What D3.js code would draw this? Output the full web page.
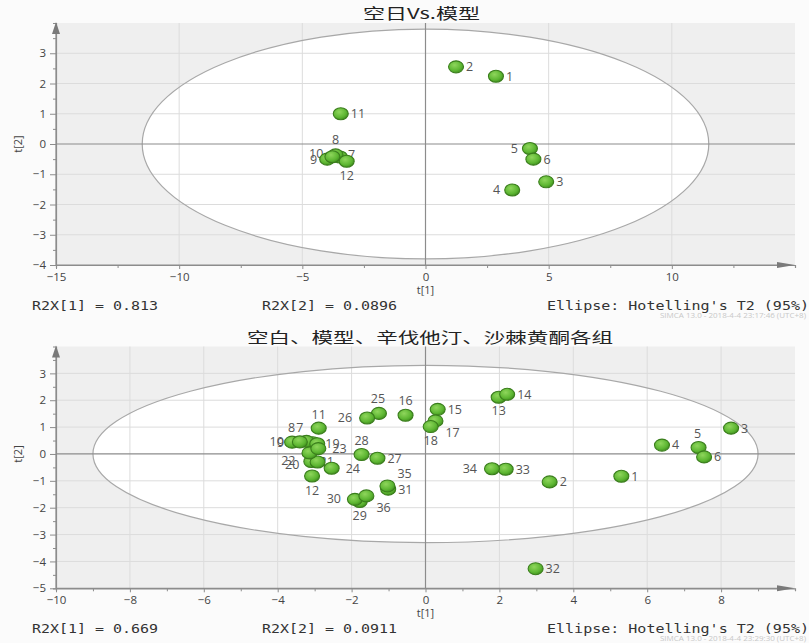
<!DOCTYPE html>
<html>
<head>
<meta charset="utf-8">
<script src="https://cdn.jsdelivr.net/npm/d3@7"></script>
<style>
  body { margin: 0; background: #fbfbfb; }
  svg { display: block; }
</style>
</head>
<body>
<svg id="chart" width="809" height="643"></svg>
<script>
// panel 1: 空日Vs.模型
const topIds = [1, 2, 3, 4, 5, 6, 7, 8, 9, 10, 11, 12];
const topT1 = [2.86, 1.24, 4.90, 3.52, 4.24, 4.38, -3.47, -3.65, -3.99, -3.78, -3.44, -3.20];
const topT2 = [2.24, 2.55, -1.25, -1.52, -0.15, -0.50, -0.43, -0.36, -0.50, -0.42, 1.00, -0.57];
const topXTicks = [-15, -10, -5, 0, 5, 10];
const topYTicks = [-4, -3, -2, -1, 0, 1, 2, 3];
const topEllipse = [11.5, 3.8];
const topStats = ['R2X[1] = 0.813', 'R2X[2] = 0.0896', "Ellipse: Hotelling's T2 (95%)"];

// panel 2: 空白、模型、辛伐他汀、沙棘黄酮各组
const botIds = [1, 2, 3, 4, 5, 6, 7, 8, 9, 10, 11, 12, 13, 14, 15, 16, 17, 18,
  19, 20, 21, 22, 23, 24, 25, 26, 27, 28, 29, 30, 31, 32, 33, 34, 35, 36];
const botT1 = [5.30, 3.36, 8.27, 6.40, 7.39, 7.54, -3.05, -3.22, -3.61, -3.40, -2.89, -3.07,
  1.98, 2.21, 0.33, -0.54, 0.27, 0.14, -2.93, -3.09, -2.92, -3.14, -2.90, -2.54,
  -1.26, -1.58, -1.30, -1.73, -1.78, -1.91, -1.01, 2.98, 2.17, 1.80, -1.03, -1.60];
const botT2 = [-0.83, -1.04, 0.96, 0.33, 0.24, -0.11, 0.42, 0.47, 0.44, 0.45, 0.96, -0.82,
  2.11, 2.22, 1.66, 1.44, 1.23, 1.02, 0.38, -0.28, -0.30, 0.04, 0.20, -0.53,
  1.51, 1.34, -0.16, -0.02, -1.77, -1.69, -1.31, -4.27, -0.57, -0.55, -1.19, -1.56];
const botXTicks = [-10, -8, -6, -4, -2, 0, 2, 4, 6, 8];
const botYTicks = [-5, -4, -3, -2, -1, 0, 1, 2, 3];
const botEllipse = [9.0, 3.3];
const botStats = ['R2X[1] = 0.669', 'R2X[2] = 0.0911', "Ellipse: Hotelling's T2 (95%)"];

// label placement [dx, dy, anchor]; default is to the right of the point
const topLabelPos = {
  4: [-12, 0, 'end'], 5: [-12, 0, 'end'], 7: [8, -2, 'start'], 8: [0, -15, 'middle'],
  9: [-10, 0, 'end'], 10: [-9, -3, 'end'], 12: [0, 14, 'middle']
};
const botLabelPos = {
  5: [-1, -14, 'middle'], 7: [-13, -15, 'middle'], 8: [-15, -14, 'middle'],
  9: [-8, 0, 'end'], 10: [-16, 0, 'end'], 11: [0, -14, 'middle'], 12: [0, 15, 'middle'],
  13: [0, 13, 'middle'], 16: [0, -15, 'middle'], 17: [10, 12, 'start'], 18: [0, 14, 'middle'],
  19: [8, 0, 'start'], 20: [-12, 3, 'end'], 21: [2, 0, 'start'], 22: [-14, 8, 'end'],
  23: [14, 0, 'start'], 24: [14, 0, 'start'], 25: [-1, -15, 'middle'], 26: [-15, 0, 'end'],
  28: [0, -14, 'middle'], 29: [0, 14, 'middle'], 30: [-14, -1, 'end'], 34: [-15, 0, 'end'],
  35: [10, -12, 'start'], 36: [10, 12, 'start']
};

const svg = d3.select('#chart');
const left = 56, right = 795;

const grad = svg.append('defs').append('radialGradient')
  .attr('id', 'dot').attr('cx', '40%').attr('cy', '35%').attr('r', '70%');
grad.append('stop').attr('offset', '0%').attr('stop-color', '#8fd65c');
grad.append('stop').attr('offset', '65%').attr('stop-color', '#5db632');
grad.append('stop').attr('offset', '100%').attr('stop-color', '#3d8a1c');

function range(a, b, step) {
  const out = [];
  for (let v = a; v <= b + 1e-9; v += step) out.push(+v.toFixed(2));
  return out;
}

function drawPanel(p) {
  const g = svg.append('g');
  const x = d3.scaleLinear().domain(p.xDomain).range([left, right]);
  const y = d3.scaleLinear().domain(p.yDomain).range([p.bottom, p.top]);

  g.append('rect')
    .attr('x', left).attr('y', p.top)
    .attr('width', right - left).attr('height', p.bottom - p.top)
    .attr('fill', '#efefef');

  g.append('ellipse')
    .attr('cx', x(0)).attr('cy', y(0))
    .attr('rx', x(p.ellipse[0]) - x(0)).attr('ry', y(0) - y(p.ellipse[1]))
    .attr('fill', '#ffffff');

  // grid
  g.selectAll('.vgrid')
    .data(p.xTicks.filter(d => d !== 0 && d !== p.xDomain[0]))
    .enter().append('line')
    .attr('x1', d => x(d)).attr('x2', d => x(d))
    .attr('y1', p.top).attr('y2', p.bottom)
    .attr('stroke', '#dcdcdc');
  g.selectAll('.hgrid')
    .data(p.yTicks.filter(d => d !== 0 && d !== p.yDomain[0]))
    .enter().append('line')
    .attr('x1', left).attr('x2', right)
    .attr('y1', d => y(d)).attr('y2', d => y(d))
    .attr('stroke', '#dcdcdc');

  g.append('ellipse')
    .attr('cx', x(0)).attr('cy', y(0))
    .attr('rx', x(p.ellipse[0]) - x(0)).attr('ry', y(0) - y(p.ellipse[1]))
    .attr('fill', 'none').attr('stroke', '#a8a8a8').attr('stroke-width', 1.2);

  // zero lines
  g.append('line').attr('x1', x(0)).attr('x2', x(0)).attr('y1', p.top).attr('y2', p.bottom)
    .attr('stroke', '#8c8c8c').attr('stroke-width', 1.2);
  g.append('line').attr('x1', left).attr('x2', right).attr('y1', y(0)).attr('y2', y(0))
    .attr('stroke', '#8c8c8c').attr('stroke-width', 1.2);

  // axes
  const xAxis = g.append('g').attr('transform', `translate(0,${p.bottom})`)
    .call(d3.axisBottom(x).tickValues(p.xTicks).tickSize(4).tickPadding(4).tickFormat(d3.format('d')));
  const xMinor = g.append('g').attr('transform', `translate(0,${p.bottom})`)
    .call(d3.axisBottom(x).tickValues(p.xMinor).tickSize(3).tickFormat(''));
  const yAxis = g.append('g').attr('transform', `translate(${left},0)`)
    .call(d3.axisLeft(y).tickValues(p.yTicks).tickSize(6).tickPadding(4).tickFormat(d3.format('d')));
  const yMinor = g.append('g').attr('transform', `translate(${left},0)`)
    .call(d3.axisLeft(y).tickValues(p.yMinor).tickSize(3).tickFormat(''));

  [xAxis, xMinor, yAxis, yMinor].forEach(a => {
    a.select('.domain').attr('stroke', '#8c8c8c').attr('stroke-width', 1.2);
    a.selectAll('.tick line').attr('stroke', '#8c8c8c');
    a.selectAll('.tick text')
      .attr('fill', '#444').attr('font-family', 'Open Sans, sans-serif').attr('font-size', 11.5);
  });
  xAxis.select('.domain').attr('d', `M${left},0H${right - 14}`);
  yAxis.select('.domain').attr('d', `M0,${p.bottom}V${p.top + 10}`);

  // arrows
  g.append('path')
    .attr('d', `M${left - 4},${p.top + 11}L${left},${p.top - 1}L${left + 4},${p.top + 11}Z`)
    .attr('fill', '#7a7a7a');
  g.append('path')
    .attr('d', `M${right - 18},${p.bottom - 3}L${right},${p.bottom}L${right - 18},${p.bottom + 3}Z`)
    .attr('fill', '#7a7a7a');

  // axis titles
  g.append('text').attr('x', x(0)).attr('y', p.bottom + 29)
    .attr('text-anchor', 'middle').attr('font-family', 'Open Sans, sans-serif')
    .attr('font-size', 11).attr('fill', '#444').text('t[1]');
  g.append('text').attr('transform', `translate(22,${y(0)}) rotate(-90)`)
    .attr('text-anchor', 'middle').attr('font-family', 'Open Sans, sans-serif')
    .attr('font-size', 11).attr('fill', '#444').text('t[2]');

  // title
  g.append('text').attr('x', p.titleX).attr('y', p.titleY)
    .attr('textLength', p.titleW).attr('lengthAdjust', 'spacingAndGlyphs')
    .attr('font-family', 'Noto Sans CJK SC, sans-serif').attr('font-size', 15)
    .attr('fill', '#222').text(p.title);

  // footer
  const statX = [32, 262, 547];
  const statW = [126, 135, 262];
  g.selectAll('.stat').data(p.stats).enter().append('text')
    .attr('x', (d, i) => statX[i]).attr('y', p.bottom + 45)
    .attr('textLength', (d, i) => statW[i]).attr('lengthAdjust', 'spacingAndGlyphs')
    .attr('font-family', 'DejaVu Sans Mono, monospace').attr('font-size', 12)
    .attr('fill', '#333').text(d => d);
  g.append('text').attr('x', 806).attr('y', p.bottom + 53)
    .attr('text-anchor', 'end')
    .attr('font-family', 'Open Sans, sans-serif').attr('font-size', 8)
    .attr('fill', '#c8c8c8').text(p.simca);

  const pts = p.ids.map((id, i) => ({ id, t1: p.t1[i], t2: p.t2[i] }));

  // labels under the points, like the original
  g.selectAll('.lbl').data(pts).enter().append('text')
    .attr('x', d => x(d.t1) + (p.labelPos[d.id] || [10, 0])[0])
    .attr('y', d => y(d.t2) + (p.labelPos[d.id] || [10, 0])[1])
    .attr('dy', '0.35em')
    .attr('text-anchor', d => (p.labelPos[d.id] || [0, 0, 'start'])[2])
    .attr('font-family', 'Open Sans, sans-serif').attr('font-size', 12.5)
    .attr('fill', '#555').text(d => d.id);

  g.selectAll('.pt').data(pts).enter().append('ellipse')
    .attr('cx', d => x(d.t1)).attr('cy', d => y(d.t2))
    .attr('rx', 7.5).attr('ry', 6)
    .attr('fill', 'url(#dot)').attr('stroke', '#3a7d1c').attr('stroke-width', 1.1);
}

drawPanel({
  ids: topIds, t1: topT1, t2: topT2, labelPos: topLabelPos,
  xDomain: [-15, 15], yDomain: [-4, 4], top: 23, bottom: 265,
  xTicks: topXTicks, yTicks: topYTicks,
  xMinor: range(-12.5, 12.5, 5), yMinor: range(-3.5, 3.5, 1),
  ellipse: topEllipse, stats: topStats,
  title: '空日Vs.模型', titleX: 363, titleY: 19, titleW: 117,
  simca: 'SIMCA 13.0 - 2018-4-4 23:17:46 (UTC+8)'
});

drawPanel({
  ids: botIds, t1: botT1, t2: botT2, labelPos: botLabelPos,
  xDomain: [-10, 10], yDomain: [-5, 4], top: 346.5, bottom: 588.3,
  xTicks: botXTicks, yTicks: botYTicks,
  xMinor: range(-9, 9, 2), yMinor: range(-4.5, 3.5, 1),
  ellipse: botEllipse, stats: botStats,
  title: '空白、模型、辛伐他汀、沙棘黄酮各组', titleX: 247, titleY: 343, titleW: 366,
  simca: 'SIMCA 13.0 - 2018-4-4 23:29:30 (UTC+8)'
});
</script>
</body>
</html>
